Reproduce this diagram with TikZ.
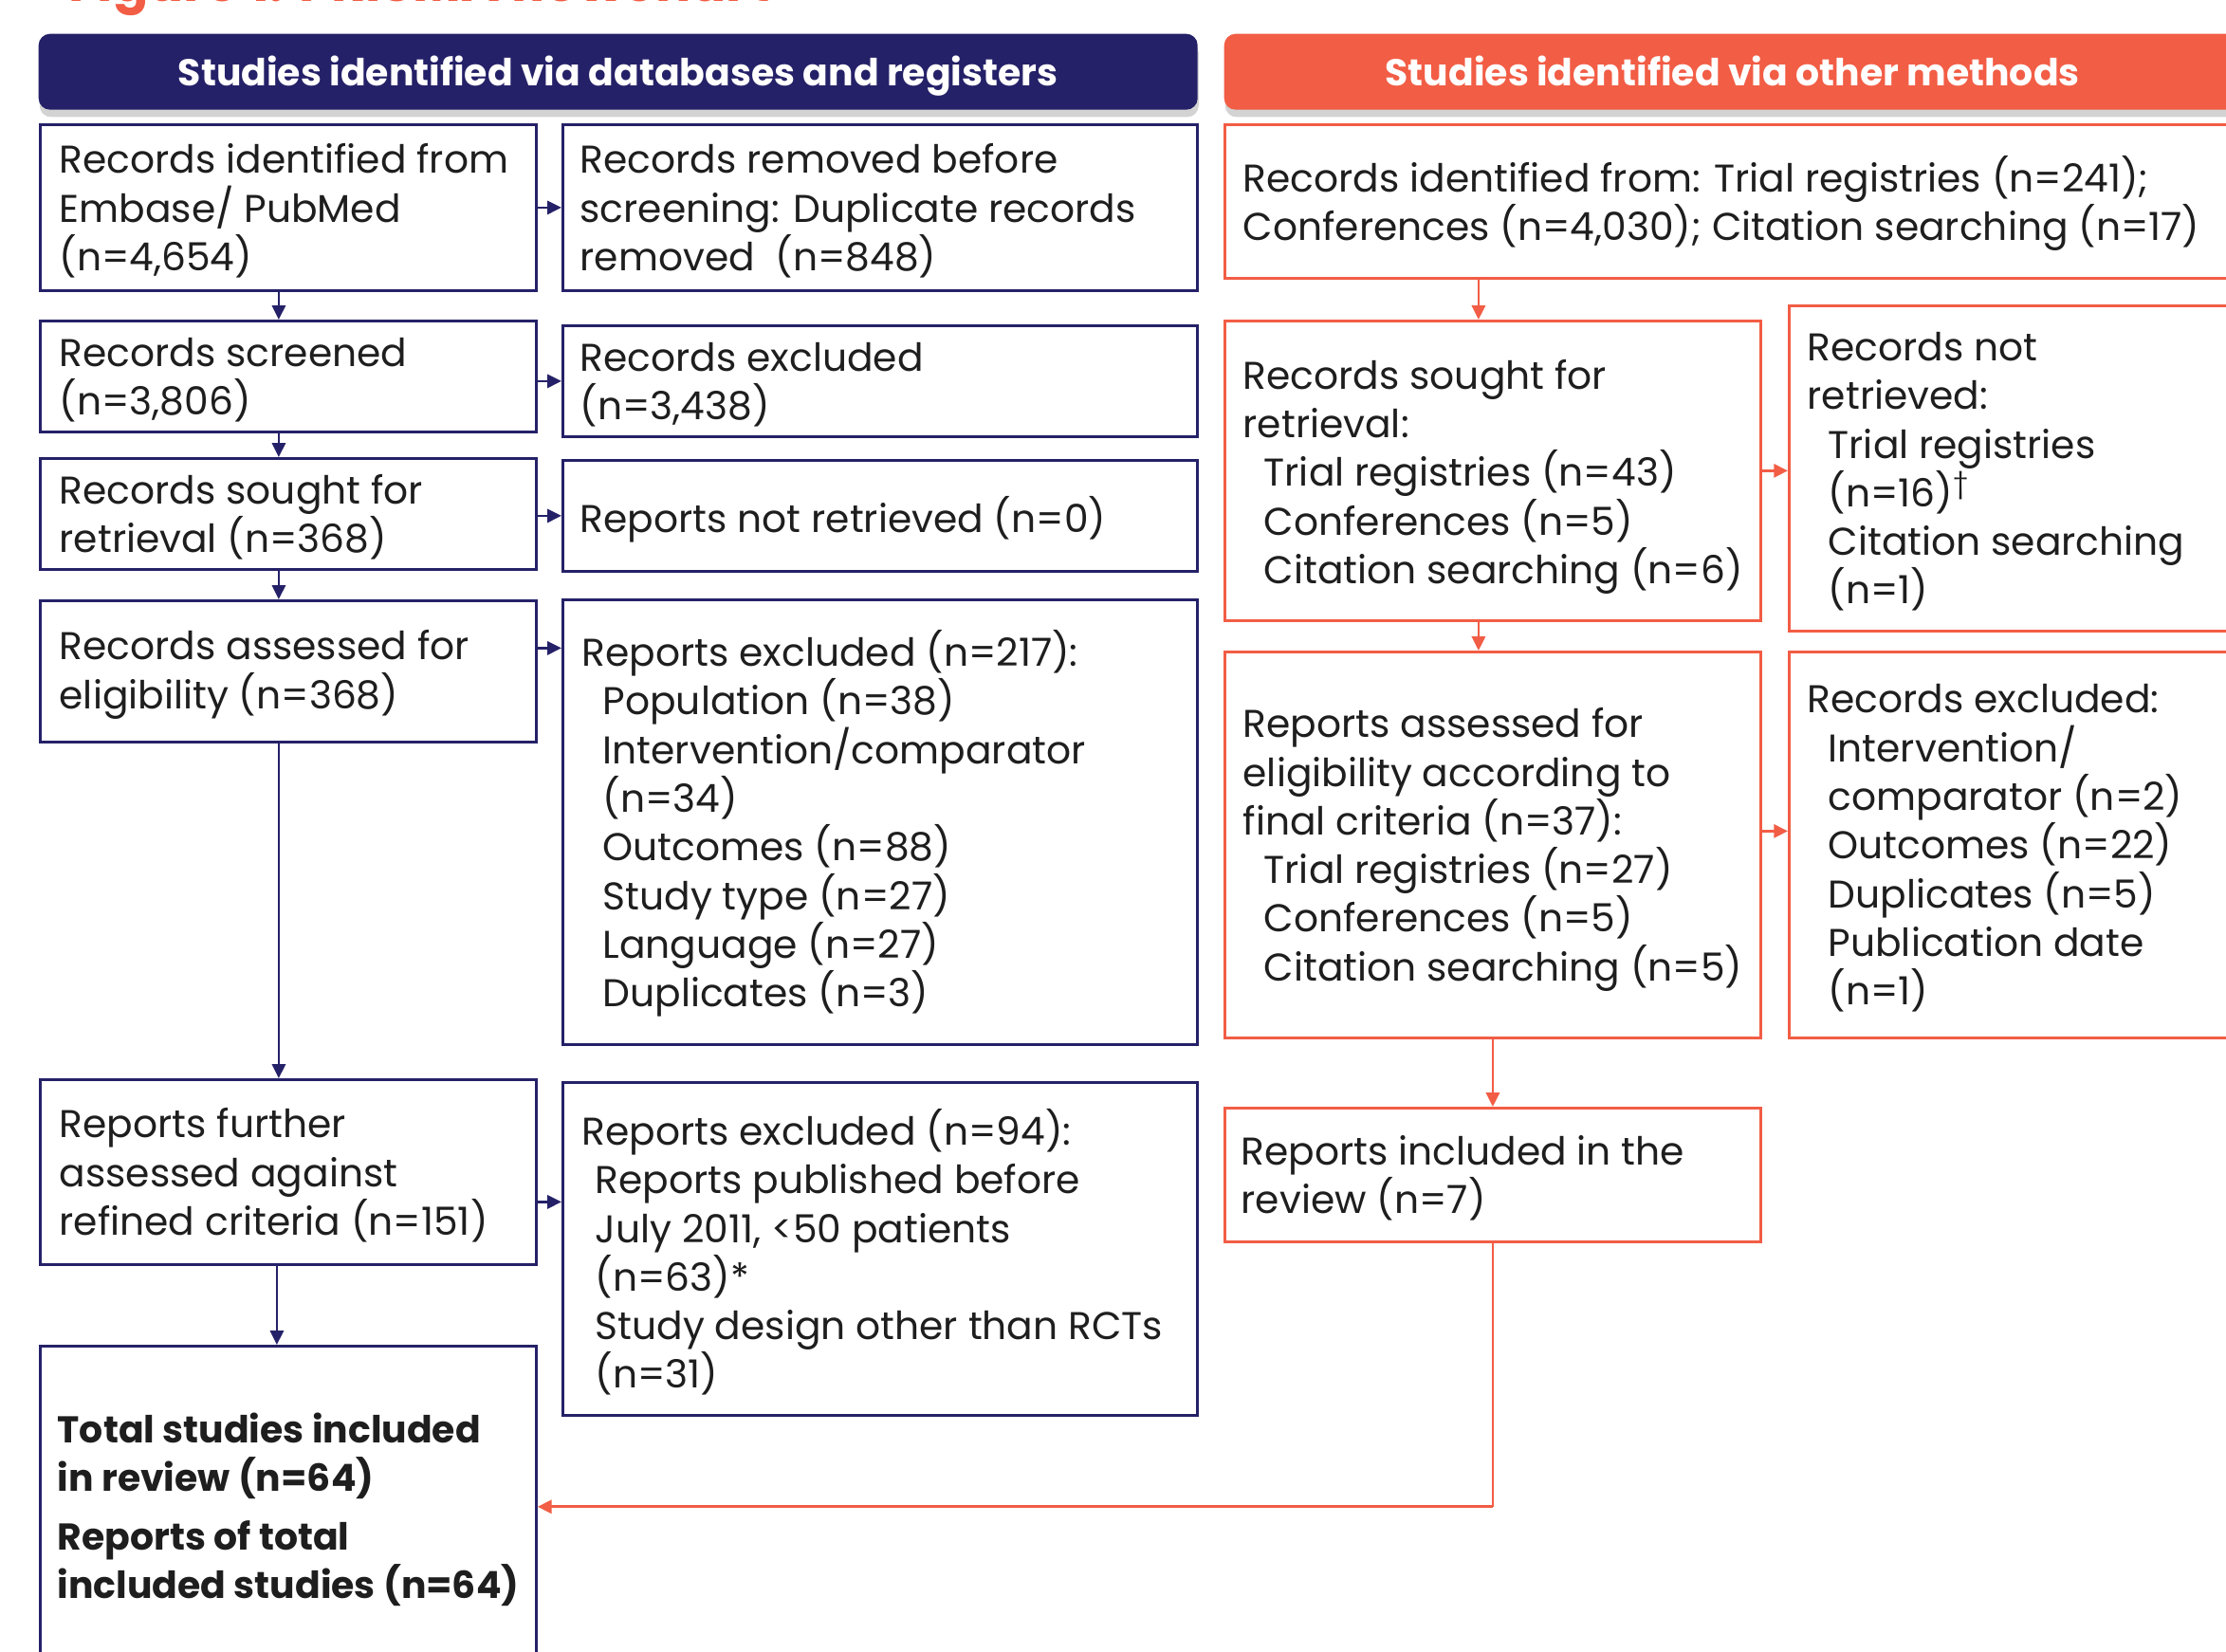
\documentclass[tikz,border=0pt]{standalone}
\usepackage{fontspec}
\setmainfont{Poppins}
\usetikzlibrary{arrows.meta,shadows,calc}
\definecolor{navy}{RGB}{37,33,104}
\definecolor{orng}{RGB}{242,93,69}
\definecolor{txtc}{RGB}{30,30,30}
\newcommand\bodyfont{\fontsize{11.6pt}{14.6pt}\selectfont\lineskiplimit=-50pt\relax}
\newcommand\kfont{\fontsize{11.2pt}{14.6pt}\selectfont\lineskiplimit=-50pt\relax\bfseries}
\newcommand\ind{\hspace*{2.2mm}}
\tikzset{
  bx/.style={draw, line width=0.8pt, inner sep=0pt, anchor=north west, fill=white},
  lbx/.style={bx, draw=navy},
  rbx/.style={bx, draw=orng},
  hdr/.style={rounded corners=1.2mm, inner sep=0pt, anchor=north west, minimum height=0.80cm,
    text height=0.84em, text depth=0pt,
    drop shadow={opacity=0.35, shadow xshift=0.3pt, shadow yshift=-2.2pt},
    text=white, font=\fontsize{11.2pt}{13pt}\selectfont\bfseries},
  txt/.style={anchor=west, align=left, inner sep=0pt, font=\bodyfont, text=txtc, yshift=-0.35mm},
  la/.style={draw=navy, line width=0.7pt, -{Triangle[length=4.2pt,width=4pt]}},
  ra/.style={draw=orng, line width=0.8pt, -{Triangle[length=4.2pt,width=4pt]}},
  rl/.style={draw=orng, line width=0.8pt},
}
\begin{document}
\begin{tikzpicture}
\useasboundingbox (0,0) rectangle (23.47,-17.42);
\clip (0,0) rectangle (23.47,-17.42);

% title (mostly cut off)
\node[anchor=base west, inner sep=0pt, text=orng, font=\fontsize{15.7pt}{18pt}\selectfont\bfseries] (title) at (0.72,-0.015) {Figure 1: PRISMA flowchart};

% headers
\node[hdr, fill=navy, minimum width=12.22cm] (hl) at (0.40,-0.35) {Studies identified via databases and registers};
\node[hdr, fill=orng, minimum width=10.72cm] (hr) at (12.90,-0.35) {Studies identified via other methods};

% left column boxes
\node[lbx, minimum width=5.23cm, minimum height=1.75cm] (A) at (0.41,-1.30) {};
\node[lbx, minimum width=6.69cm, minimum height=1.75cm] (B) at (5.92,-1.30) {};
\node[lbx, minimum width=5.23cm, minimum height=1.17cm] (C) at (0.41,-3.37) {};
\node[lbx, minimum width=6.69cm, minimum height=1.17cm] (D) at (5.92,-3.42) {};
\node[lbx, minimum width=5.23cm, minimum height=1.17cm] (E) at (0.41,-4.82) {};
\node[lbx, minimum width=6.69cm, minimum height=1.17cm] (F) at (5.92,-4.84) {};
\node[lbx, minimum width=5.23cm, minimum height=1.49cm] (G) at (0.41,-6.32) {};
\node[lbx, minimum width=6.69cm, minimum height=4.69cm] (H) at (5.92,-6.31) {};
\node[lbx, minimum width=5.23cm, minimum height=1.95cm] (I) at (0.41,-11.37) {};
\node[lbx, minimum width=6.69cm, minimum height=3.51cm] (J) at (5.92,-11.40) {};
\node[lbx, minimum width=5.23cm, minimum height=3.44cm] (K) at (0.41,-14.18) {};

% right column boxes
\node[rbx, minimum width=10.72cm, minimum height=1.62cm] (R1) at (12.90,-1.30) {};
\node[rbx, minimum width=5.65cm, minimum height=3.16cm] (R2) at (12.90,-3.37) {};
\node[rbx, minimum width=4.77cm, minimum height=3.43cm] (R3) at (18.85,-3.21) {};
\node[rbx, minimum width=5.65cm, minimum height=4.07cm] (R4) at (12.90,-6.86) {};
\node[rbx, minimum width=4.77cm, minimum height=4.07cm] (R5) at (18.85,-6.86) {};
\node[rbx, minimum width=5.65cm, minimum height=1.41cm] (R6) at (12.90,-11.67) {};

% texts
\node[txt] (At) at ([xshift=2.1mm]A.west) {Records identified from\\Embase/ PubMed\\(n=4,654)};
\node[txt] (Bt) at ([xshift=1.9mm]B.west) {Records removed before\\screening: Duplicate records\\removed\ \ (n=848)};
\node[txt] (Ct) at ([xshift=2.1mm]C.west) {Records screened\\(n=3,806)};
\node[txt] (Dt) at ([xshift=1.9mm]D.west) {Records excluded\\(n=3,438)};
\node[txt] (Et) at ([xshift=2.1mm]E.west) {Records sought for\\retrieval (n=368)};
\node[txt] (Ft) at ([xshift=1.9mm]F.west) {Reports not retrieved (n=0)};
\node[txt] (Gt) at ([xshift=2.1mm]G.west) {Records assessed for\\eligibility (n=368)};
\node[txt, yshift=0.2mm] (Ht) at ([xshift=2.1mm]H.west) {Reports excluded (n=217):\\\ind Population (n=38)\\\ind Intervention/comparator\\\ind (n=34)\\\ind Outcomes (n=88)\\\ind Study type (n=27)\\\ind Language (n=27)\\\ind Duplicates (n=3)};
\node[txt] (It) at ([xshift=2.1mm]I.west) {Reports further\\assessed against\\refined criteria (n=151)};
\node[txt] (Jt) at ([xshift=2.1mm]J.west) {Reports excluded (n=94):\\\hspace*{1.4mm}Reports published before\\\hspace*{1.4mm}July 2011, <50 patients\\\hspace*{1.4mm}(n=63)*\\\hspace*{1.4mm}Study design other than RCTs\\\hspace*{1.4mm}(n=31)};
\node[txt, font=\kfont, yshift=0.3mm] (Kt) at ([xshift=1.9mm]K.west) {Total studies included\\in review (n=64)\\[0.1cm]Reports of total\\included studies (n=64)};

\node[txt, yshift=0.15mm] (R1t) at ([xshift=2.0mm]R1.west) {Records identified from: Trial registries (n=241);\\Conferences (n=4,030); Citation searching (n=17)};
\node[txt, yshift=-0.3mm] (R2t) at ([xshift=2.0mm]R2.west) {Records sought for\\retrieval:\\\ind Trial registries (n=43)\\\ind Conferences (n=5)\\\ind Citation searching (n=6)};
\node[txt] (R3t) at ([xshift=2.0mm]R3.west) {Records not\\retrieved:\\\ind Trial registries\\\ind (n=16)\textsuperscript{\textdagger}\\\ind Citation searching\\\ind (n=1)};
\node[txt, yshift=-0.15mm] (R4t) at ([xshift=2.0mm]R4.west) {Reports assessed for\\eligibility according to\\final criteria (n=37):\\\ind Trial registries (n=27)\\\ind Conferences (n=5)\\\ind Citation searching (n=5)};
\node[txt] (R5t) at ([xshift=2.0mm]R5.west) {Records excluded:\\\ind Intervention/\\\ind comparator (n=2)\\\ind Outcomes (n=22)\\\ind Duplicates (n=5)\\\ind Publication date\\\ind (n=1)};
\node[txt] (R6t) at ([xshift=1.8mm]R6.west) {Reports included in the\\review (n=7)};

% left connectors
\coordinate (a1) at ([xshift=-1mm]A.south);
\draw[la] (a1) -- (a1 |- C.north);
\coordinate (c1) at ([xshift=-1mm]C.south);
\draw[la] (c1) -- (c1 |- E.north);
\coordinate (e1) at ([xshift=-1mm]E.south);
\draw[la] (e1) -- (e1 |- G.north);
\coordinate (g0) at ([xshift=-1mm]G.south);
\draw[la] (g0) -- (g0 |- I.north);
\coordinate (i0) at ([xshift=-1.2mm]I.south);
\draw[la] (i0) -- (i0 |- K.north);

\draw[la] (A.east) -- (B.west);
\draw[la] (C.east |- D.west) -- (D.west);
\draw[la] (E.east |- F.west) -- (F.west);
\coordinate (g1) at ([yshift=2.45mm]G.east);
\draw[la] (g1) -- (g1 -| H.west);
\coordinate (i1) at ([yshift=-3.15mm]I.east);
\draw[la] (i1) -- (i1 -| J.west);

% right connectors
\coordinate (r1) at ([xshift=-1.5mm]R2.north |- R1.south);
\draw[ra] (r1) -- (r1 |- R2.north);
\coordinate (r2) at ([xshift=-1.5mm]R2.south);
\draw[ra] (r2) -- (r2 |- R4.north);
\draw[ra] (R2.east) -- (R2.east -| R3.west);
\coordinate (r4) at ([yshift=1.45mm]R4.east);
\draw[ra] (r4) -- (r4 -| R5.west);
\draw[ra] (R4.south) -- (R6.north);
\coordinate (r6) at ($(R6.south)+(0,-2.78)$);
\draw[rl] (R6.south) -- (r6);
\draw[ra] (r6) -- (r6 -| K.east);
\end{tikzpicture}
\end{document}
